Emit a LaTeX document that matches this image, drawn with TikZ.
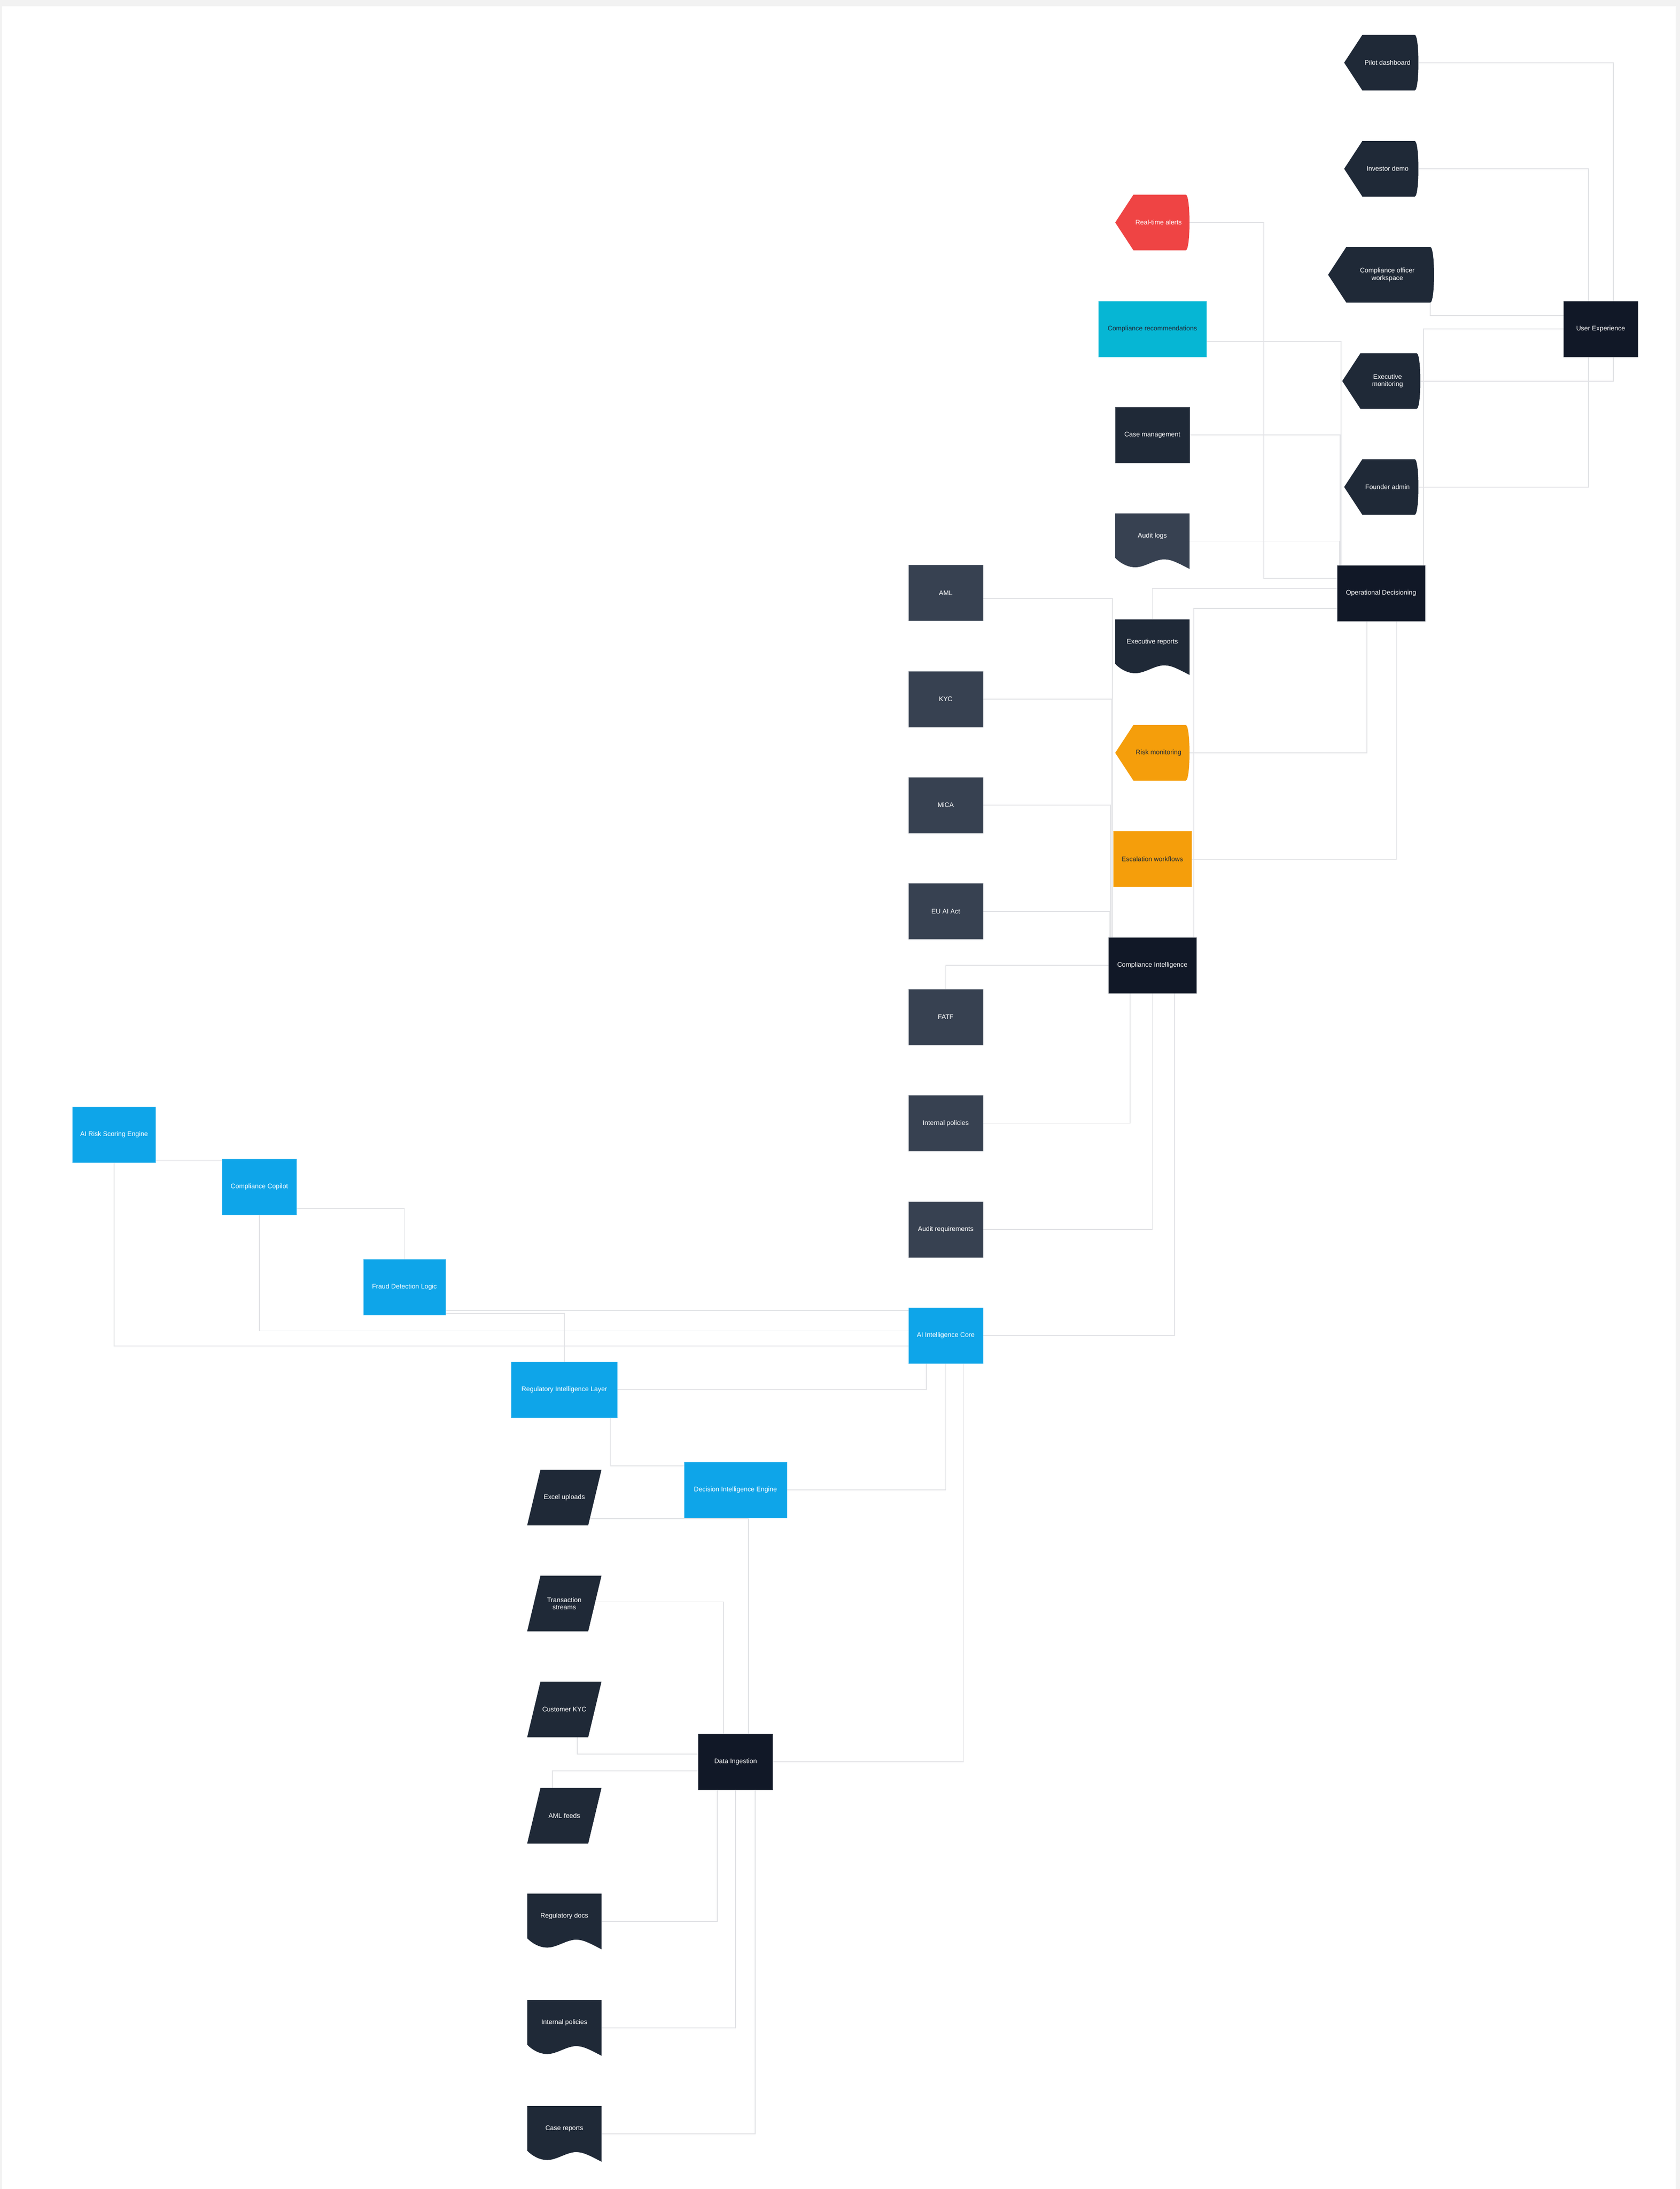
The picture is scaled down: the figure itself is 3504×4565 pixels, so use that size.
\documentclass[tikz,border=0pt]{standalone}
\usepackage{fontspec}
\setmainfont{Liberation Sans}
\usetikzlibrary{calc,backgrounds}

\definecolor{framegray}{HTML}{F2F2F2}
\definecolor{linkgray}{HTML}{E2E3E6}
\definecolor{ink900}{HTML}{111827}
\definecolor{ink800}{HTML}{1F2937}
\definecolor{ink700}{HTML}{374151}
\definecolor{skyfill}{HTML}{0EA5E9}
\definecolor{cyanfill}{HTML}{06B6D4}
\definecolor{amberfill}{HTML}{F59E0B}
\definecolor{alertred}{HTML}{EF4444}
\newcommand{\nodefont}{\fontsize{13.8}{15.4}\selectfont}

\begin{document}
\begin{tikzpicture}[x=1pt, y=-1pt]
  \useasboundingbox (0,0) rectangle (3504,4565);

  % --- Styles ---
  \tikzset{
    block/.style={rectangle, inner sep=0pt, minimum width=155pt, minimum height=116pt,
      font=\nodefont, text=white, align=center},
    plain/.style={block, fill=#1, draw=#1!75!white, line width=0.8pt},
    display/.style={block, path picture={
        \fill[#1] let \p1=(path picture bounding box.south west),
                      \p2=(path picture bounding box.north east) in
          (\x1,{(\y1+\y2)/2}) -- ({\x1+38pt},\y2) -- ({\x2-8pt},\y2)
          .. controls ({\x2+2.6pt},\y2) and ({\x2+2.6pt},\y1) .. ({\x2-8pt},\y1)
          -- ({\x1+38pt},\y1) -- cycle;}},
    doc/.style={block, path picture={
        \fill[#1] let \p1=(path picture bounding box.south west),
                      \p2=(path picture bounding box.north east) in
          (\x1,\y2) -- (\x2,\y2) -- (\x2,\y1)
          .. controls ({\x1+0.85*(\x2-\x1)},{\y1+12pt}) and ({\x1+0.76*(\x2-\x1)},{\y1+20pt}) .. ({\x1+0.66*(\x2-\x1)},{\y1+20pt})
          .. controls ({\x1+0.53*(\x2-\x1)},{\y1+20pt}) and ({\x1+0.40*(\x2-\x1)},{\y1+3.5pt}) .. ({\x1+0.27*(\x2-\x1)},{\y1+3.5pt})
          .. controls ({\x1+0.15*(\x2-\x1)},{\y1+3.5pt}) and ({\x1+0.05*(\x2-\x1)},{\y1+15pt}) .. (\x1,{\y1+23pt})
          -- cycle;}},
    slanted/.style={block, path picture={
        \fill[#1] let \p1=(path picture bounding box.south west),
                      \p2=(path picture bounding box.north east) in
          (\x1,\y1) -- ({\x1+27.7pt},\y2) -- (\x2,\y2) -- ({\x2-27.7pt},\y1) -- cycle;}},
    lbl/.style={font=\nodefont, text=white, align=center},
    wire/.style={draw=linkgray, line width=1.8pt}
  }

  % --- User experience branch ---
  \node[display=ink800, label={[lbl,xshift=13pt]center:Pilot dashboard}] (pilot) at (2881,130.7) {};
  \node[display=ink800, label={[lbl,xshift=13pt]center:Investor demo}] (investor) at (2881,352) {};
  \node[display=ink800, minimum width=221pt,
        label={[lbl,xshift=13pt]center:{Compliance officer\\workspace}}] (cowork) at (2880.5,573) {};
  \node[display=ink800, minimum width=163pt,
        label={[lbl,xshift=13pt]center:{Executive\\monitoring}}] (execmon) at (2881,794.6) {};
  \node[display=ink800, label={[lbl,xshift=13pt]center:Founder admin}] (founder) at (2881,1015.6) {};
  \node[plain=ink900] (ux) at (3338.5,686) {User Experience};
  \node[plain=ink900, minimum width=183pt] (opdec) at (2880.5,1237) {Operational Decisioning};

  % --- Operational outputs ---
  \node[display=alertred, label={[lbl,xshift=13pt]center:Real-time alerts}] (alerts) at (2403.5,464) {};
  \node[plain=cyanfill, minimum width=225pt, text=ink800] (recs) at (2403.5,686) {Compliance recommendations};
  \node[plain=ink800] (casemgmt) at (2403.5,907) {Case management};
  \node[doc=ink700, label={[lbl,yshift=11pt]center:Audit logs}] (auditlogs) at (2403.5,1128.5) {};
  \node[doc=ink800, label={[lbl,yshift=11pt]center:Executive reports}] (execrep) at (2403.5,1349.5) {};
  \node[display=amberfill, label={[lbl,text=ink800,xshift=13pt]center:Risk monitoring}] (riskmon) at (2403.5,1570) {};
  \node[plain=amberfill, minimum width=163pt, text=ink800] (escal) at (2403.5,1791.6) {Escalation workflows};
  \node[plain=ink900, minimum width=183pt] (compint) at (2403.5,2013) {Compliance Intelligence};

  % --- Regulatory frameworks ---
  \node[plain=ink700] (aml) at (1972.5,1236.7) {AML};
  \node[plain=ink700] (kyc) at (1972.5,1458) {KYC};
  \node[plain=ink700] (mica) at (1972.5,1679) {MiCA};
  \node[plain=ink700] (euai) at (1972.5,1900.6) {EU AI Act};
  \node[plain=ink700] (fatf) at (1972.5,2121) {FATF};
  \node[plain=ink700] (intpol) at (1972.5,2342.5) {Internal policies};
  \node[plain=ink700] (auditreq) at (1972.5,2564) {Audit requirements};
  \node[plain=skyfill] (aicore) at (1972.5,2785) {AI Intelligence Core};

  % --- AI modules ---
  \node[plain=skyfill, minimum width=173pt] (airisk) at (238,2366) {AI Risk Scoring Engine};
  \node[plain=skyfill] (copilot) at (541,2475) {Compliance Copilot};
  \node[plain=skyfill, minimum width=171pt] (fraud) at (843.5,2684) {Fraud Detection Logic};
  \node[plain=skyfill, minimum width=221pt] (regintel) at (1177,2898) {Regulatory Intelligence Layer};
  \node[plain=skyfill, minimum width=214pt] (dieng) at (1534,3107) {Decision Intelligence Engine};

  % --- Data sources ---
  \node[slanted=ink800] (excel) at (1177,3123) {Excel uploads};
  \node[slanted=ink800] (txn) at (1177,3344) {Transaction\\streams};
  \node[slanted=ink800] (custkyc) at (1177,3565) {Customer KYC};
  \node[slanted=ink800] (amlfeeds) at (1177,3786.6) {AML feeds};
  \node[doc=ink800, label={[lbl,yshift=11pt]center:Regulatory docs}] (regdocs) at (1177,4007) {};
  \node[doc=ink800, label={[lbl,yshift=11pt]center:Internal policies}] (intpol2) at (1177,4229) {};
  \node[doc=ink800, label={[lbl,yshift=11pt]center:Case reports}] (casereps) at (1177,4450) {};
  \node[plain=ink900] (dataing) at (1534.3,3674) {Data Ingestion};

  % ports for the straight runs
  \coordinate (fraudport) at ([yshift=52pt]aicore.west);
  \coordinate (riskport) at ([yshift=4pt]airisk.south east);

  % --- Connectors (behind the nodes) ---
  \begin{pgfonlayer}{background}
    \fill[framegray] (0,0) rectangle (3504,4565);
    \fill[white] (4,12.7) rectangle (3495,4565);

    % user experience
    \draw[wire] ([xshift=26.5pt]ux.north) |- (pilot.east);
    \draw[wire] ([xshift=26.5pt]ux.south) |- (execmon.east);
    \draw[wire] ([xshift=-25.5pt]ux.north) |- (investor.east);
    \draw[wire] ([xshift=-25.5pt]ux.south) |- (founder.east);
    \draw[wire] ([yshift=28pt]ux.west) -| ([xshift=-8.4pt]cowork.south east);
    \draw[wire] (ux.west) -| ([xshift=-3.6pt]opdec.north east);

    % operational decisioning
    \draw[wire] (alerts.east) -- ++(155,0) |- ([yshift=31pt]opdec.west);
    \draw[wire] ([yshift=-25.6pt]recs.east) -| ([xshift=8.5pt]opdec.north west);
    \draw[wire] (casemgmt.east) -| ([xshift=6pt]opdec.north west);
    \draw[wire] (auditlogs.east) -| ([xshift=5pt]opdec.north west);
    \draw[wire] ([yshift=10pt]opdec.west) -| (execrep.north);
    \draw[wire] ([yshift=-32pt]opdec.west) -| ([xshift=-5.5pt]compint.north east);
    \draw[wire] ([xshift=-29.5pt]opdec.south) |- (riskmon.east);
    \draw[wire] ([xshift=32pt]opdec.south) |- (escal.east);

    % compliance intelligence
    \draw[wire] ([yshift=-11.3pt]aml.east) -| ([xshift=8.5pt]compint.north west);
    \draw[wire] (kyc.east) -| ([xshift=7pt]compint.north west);
    \draw[wire] (mica.east) -| ([xshift=4.7pt]compint.north west);
    \draw[wire] (euai.east) -| ([xshift=3pt]compint.north west);
    \draw[wire] (compint.west) -| (fatf.north);
    \draw[wire] (intpol.east) -| ([xshift=-46.5pt]compint.south);
    \draw[wire] (auditreq.east) -| (compint.south);
    \draw[wire] (aicore.east) -| ([xshift=46.5pt]compint.south);

    % ai intelligence core
    \draw[wire] ([yshift=-22pt]aicore.west) -| (airisk.south);
    \draw[wire] ([yshift=9.6pt]aicore.west) -| (copilot.south);
    \draw[wire] (fraudport) -- (fraudport -| fraud.east);
    \draw[wire] ([yshift=-54.6pt]fraud.east) -| (regintel.north);
    \draw[wire] (riskport) -- (riskport -| copilot.west);
    \draw[wire] ([yshift=-44.6pt]copilot.east) -| (fraud.north);
    \draw[wire] (regintel.east) -| ([xshift=-40.5pt]aicore.south);
    \draw[wire] (dieng.east) -| (aicore.south);
    \draw[wire] (dataing.east) -| ([xshift=37pt]aicore.south);
    \draw[wire] ([xshift=-14.4pt]regintel.south east) |- ([yshift=50pt]dieng.west);

    % data ingestion
    \draw[wire] ([xshift=-24pt,yshift=14pt]excel.south east) -| ([xshift=26.7pt]dataing.north);
    \draw[wire] ([xshift=-13pt,yshift=3.5pt]txn.east) -| ([xshift=-25.3pt]dataing.north);
    \draw[wire] ([xshift=27pt]custkyc.south) |- ([yshift=16pt]dataing.west);
    \draw[wire] ([xshift=-25pt]amlfeeds.north) |- ([yshift=-19pt]dataing.west);
    \draw[wire] (regdocs.east) -| ([xshift=-38.3pt]dataing.south);
    \draw[wire] (intpol2.east) -| (dataing.south);
    \draw[wire] (casereps.east) -| ([xshift=40.4pt]dataing.south);
  \end{pgfonlayer}

\end{tikzpicture}
\end{document}
